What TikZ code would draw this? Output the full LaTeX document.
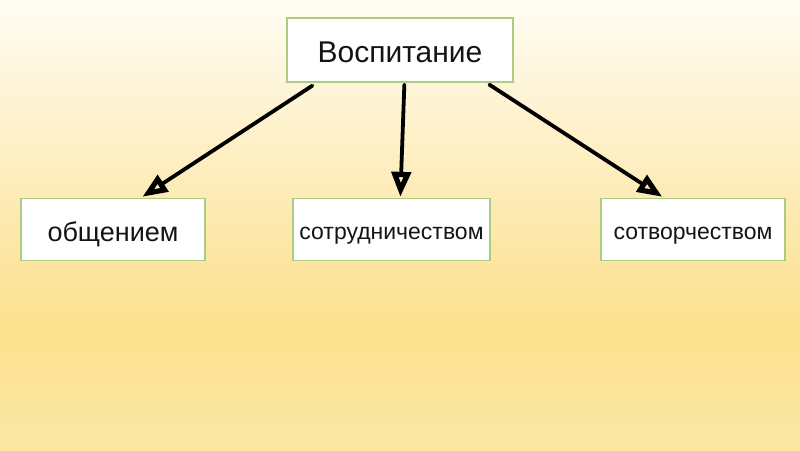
\documentclass[tikz,border=0pt]{standalone}
\usepackage{fontspec}
\setmainfont{Liberation Sans}
\usetikzlibrary{arrows.meta,calc}
\definecolor{bgtop}{RGB}{255,252,242}
\definecolor{bgmid}{RGB}{252,224,142}
\definecolor{bgbot}{RGB}{251,232,165}
\definecolor{boxline}{RGB}{172,204,128}
\definecolor{txt}{RGB}{20,20,20}
\pgfdeclareverticalshading{bgshade}{100bp}{color(0bp)=(bgbot); color(25bp)=(bgbot); color(38.3bp)=(bgmid); color(75bp)=(bgtop); color(100bp)=(bgtop)}
\begin{document}
\begin{tikzpicture}[x=1pt,y=-1pt,
  box/.style={draw=boxline, line width=1.3pt, fill=white, text=txt, inner sep=0pt, minimum height=62pt, text depth=0.5pt},
  conn/.style={line width=3.8pt, line cap=round, black, -{Triangle[open, length=25pt, width=19pt, line width=5.2pt]}}]
\useasboundingbox (0,0) rectangle (800,450);
\shade[shading=bgshade] (0,0) rectangle (800,450);
\node[box, minimum width=226pt, minimum height=64pt, text height=26pt, text depth=2pt, font=\fontsize{30}{34}\selectfont] (top) at (400,50) {Воспитание};
\node[box, minimum width=184pt, text height=23.5pt, font=\fontsize{27}{31}\selectfont] (l) at (113,229.5) {общением};
\node[box, minimum width=197pt, text height=19.5pt, font=\fontsize{23}{27}\selectfont] (m) at (391.5,229.5) {сотрудничеством};
\node[box, minimum width=184pt, text height=19.5pt, font=\fontsize{23}{27}\selectfont] (r) at (693,229.5) {сотворчеством};
\draw[conn] ($(top.south west)+(26,3)$) -- ($(l.north west)+(122,-1)$);
\draw[conn] ($(top.south west)+(118,2)$) -- ($(m.north west)+(108,-1)$);
\draw[conn] ($(top.south west)+(203,2)$) -- ($(r.north west)+(62,-1)$);
\end{tikzpicture}
\end{document}
